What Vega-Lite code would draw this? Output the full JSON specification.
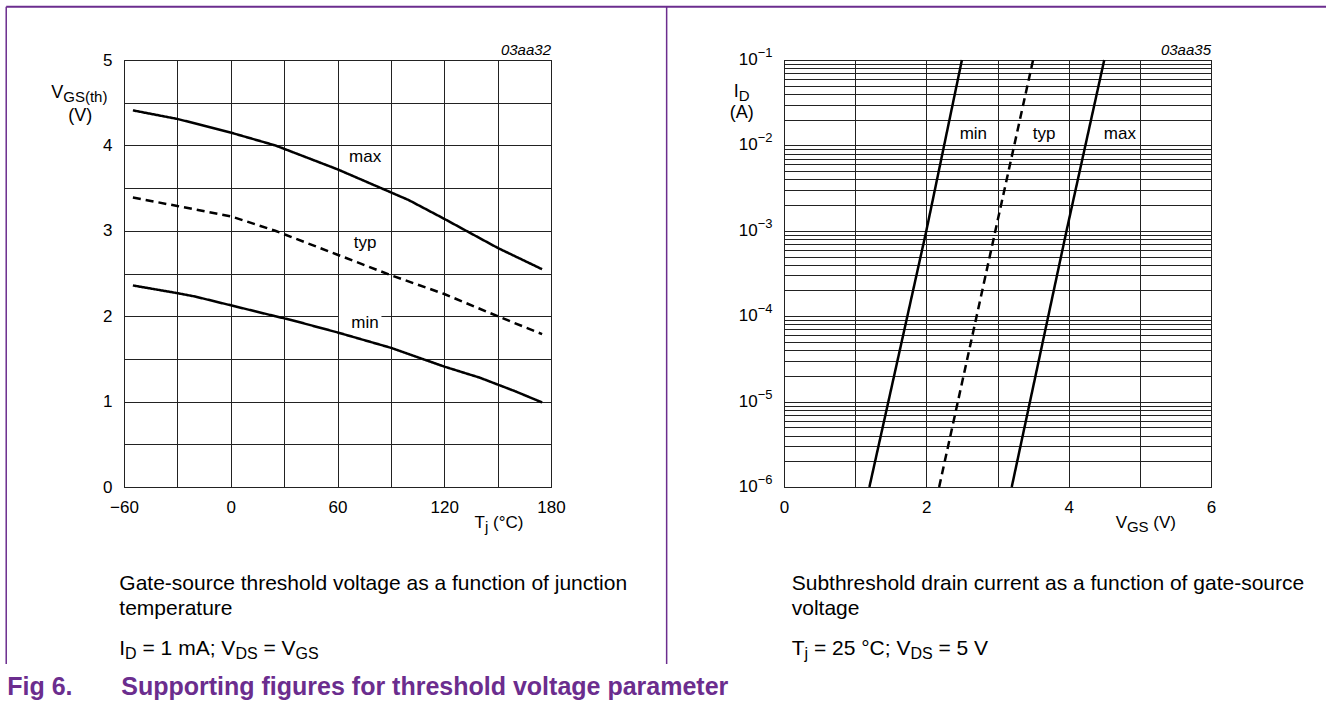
{
  "$schema": "https://vega.github.io/schema/vega-lite/v6.json",
  "padding": {"left": 4, "top": 5, "right": 0, "bottom": 0},
  "bounds": "flush",
  "spacing": 233,
  "background": "white",
  "config": {
    "font": "Liberation Sans",
    "view": {"stroke": "#000", "strokeWidth": 1},
    "axis": {"labelFont": "Liberation Sans", "labelFontSize": 17, "labelColor": "#000", "gridColor": "#222", "gridWidth": 1, "gridOpacity": 1, "ticks": false, "domain": false, "labelFlush": false, "labelOverlap": false, "labelBound": false},
    "text": {"font": "Liberation Sans", "color": "#000"}
  },
  "datasets": {
    "vth": [
      {"T": -55, "V": 4.41, "c": "max"}, {"T": -30, "V": 4.31, "c": "max"}, {"T": 0, "V": 4.15, "c": "max"}, {"T": 25, "V": 4.0, "c": "max"}, {"T": 50, "V": 3.8, "c": "max"}, {"T": 60, "V": 3.72, "c": "max"}, {"T": 90, "V": 3.45, "c": "max"}, {"T": 100, "V": 3.36, "c": "max"}, {"T": 120, "V": 3.14, "c": "max"}, {"T": 150, "V": 2.8, "c": "max"}, {"T": 175, "V": 2.55, "c": "max"},
      {"T": -55, "V": 3.39, "c": "typ"}, {"T": -30, "V": 3.29, "c": "typ"}, {"T": 0, "V": 3.17, "c": "typ"}, {"T": 25, "V": 3.0, "c": "typ"}, {"T": 60, "V": 2.72, "c": "typ"}, {"T": 90, "V": 2.48, "c": "typ"}, {"T": 120, "V": 2.26, "c": "typ"}, {"T": 150, "V": 2.0, "c": "typ"}, {"T": 175, "V": 1.79, "c": "typ"},
      {"T": -55, "V": 2.36, "c": "min"}, {"T": -30, "V": 2.27, "c": "min"}, {"T": -20, "V": 2.23, "c": "min"}, {"T": 25, "V": 2.0, "c": "min"}, {"T": 35, "V": 1.95, "c": "min"}, {"T": 60, "V": 1.81, "c": "min"}, {"T": 90, "V": 1.63, "c": "min"}, {"T": 120, "V": 1.41, "c": "min"}, {"T": 140, "V": 1.28, "c": "min"}, {"T": 150, "V": 1.2, "c": "min"}, {"T": 160, "V": 1.12, "c": "min"}, {"T": 175, "V": 0.99, "c": "min"}
    ],
    "id": [
      {"V": 1.2, "I": 0.000001, "c": "min"}, {"V": 2.0, "I": 0.001, "c": "min"}, {"V": 2.5, "I": 0.1, "c": "min"},
      {"V": 2.18, "I": 0.000001, "c": "typ"}, {"V": 2.97, "I": 0.001, "c": "typ"}, {"V": 3.5, "I": 0.1, "c": "typ"},
      {"V": 3.2, "I": 0.000001, "c": "max"}, {"V": 3.97, "I": 0.001, "c": "max"}, {"V": 4.5, "I": 0.1, "c": "max"}
    ],
    "decades": [
      {"I": 0.1, "e": "−1"}, {"I": 0.01, "e": "−2"}, {"I": 0.001, "e": "−3"}, {"I": 0.0001, "e": "−4"}, {"I": 0.00001, "e": "−5"}, {"I": 0.000001, "e": "−6"}
    ]
  },
  "hconcat": [
    {
      "width": 427,
      "height": 427,
      "layer": [
        {
          "data": {"name": "vth"},
          "mark": {"type": "line", "color": "#000", "strokeWidth": 2.5},
          "encoding": {
            "x": {"field": "T", "type": "quantitative", "scale": {"domain": [-60, 180], "nice": false, "zero": false},
              "axis": {"title": null, "values": [-60, -30, 0, 30, 60, 90, 120, 150, 180], "labelExpr": "datum.value % 60 === 0 ? format(datum.value, 'd') : ''", "labelPadding": 12}},
            "y": {"field": "V", "type": "quantitative", "scale": {"domain": [0, 5], "nice": false, "zero": false},
              "axis": {"title": null, "values": [0, 0.5, 1, 1.5, 2, 2.5, 3, 3.5, 4, 4.5, 5], "labelExpr": "datum.value % 1 === 0 ? format(datum.value, 'd') : ''", "labelPadding": 12}},
            "strokeDash": {"field": "c", "type": "nominal", "scale": {"domain": ["max", "typ", "min"], "range": [[1, 0], [8, 5], [1, 0]]}, "legend": null}
          }
        },
        {"data": {"values": [{}]}, "mark": {"type": "rect", "color": "white"}, "encoding": {"x": {"datum": 60.8}, "x2": {"datum": 84.7}, "y": {"datum": 1.922}, "y2": {"datum": 2.074}}},
        {"data": {"values": [{}]}, "mark": {"type": "text", "text": "max", "fontSize": 17, "align": "center", "baseline": "alphabetic"}, "encoding": {"x": {"datum": 75.5}, "y": {"datum": 3.809}}},
        {"data": {"values": [{}]}, "mark": {"type": "text", "text": "typ", "fontSize": 17, "align": "center", "baseline": "alphabetic"}, "encoding": {"x": {"datum": 75.5}, "y": {"datum": 2.804}}},
        {"data": {"values": [{}]}, "mark": {"type": "text", "text": "min", "fontSize": 17, "align": "center", "baseline": "alphabetic"}, "encoding": {"x": {"datum": 75.5}, "y": {"datum": 1.867}}},
        {"data": {"values": [{}]}, "mark": {"type": "text", "text": "03aa32", "fontSize": 15, "fontStyle": "italic", "align": "right", "baseline": "alphabetic"}, "encoding": {"x": {"datum": 180}, "y": {"datum": 5.0625}}},
        {"data": {"values": [{}]}, "mark": {"type": "text", "text": "V", "fontSize": 18, "align": "left", "baseline": "alphabetic"}, "encoding": {"x": {"datum": -100.9}, "y": {"datum": 4.559}}},
        {"data": {"values": [{}]}, "mark": {"type": "text", "text": "GS(th)", "fontSize": 15, "align": "left", "baseline": "alphabetic"}, "encoding": {"x": {"datum": -94.14}, "y": {"datum": 4.506}}},
        {"data": {"values": [{}]}, "mark": {"type": "text", "text": "(V)", "fontSize": 18, "align": "center", "baseline": "alphabetic"}, "encoding": {"x": {"datum": -84.58}, "y": {"datum": 4.289}}},
        {"data": {"values": [{}]}, "mark": {"type": "text", "text": "T", "fontSize": 17, "align": "left", "baseline": "alphabetic"}, "encoding": {"x": {"datum": 137.04}, "y": {"datum": -0.4805}}},
        {"data": {"values": [{}]}, "mark": {"type": "text", "text": "j", "fontSize": 15, "align": "left", "baseline": "alphabetic"}, "encoding": {"x": {"datum": 142.89}, "y": {"datum": -0.5273}}},
        {"data": {"values": [{}]}, "mark": {"type": "text", "text": "(°C)", "fontSize": 17, "align": "left", "baseline": "alphabetic"}, "encoding": {"x": {"datum": 147.39}, "y": {"datum": -0.4805}}},
        {"data": {"values": [{}]}, "mark": {"type": "text", "text": "Gate-source threshold voltage as a function of junction", "fontSize": 21, "align": "left", "baseline": "alphabetic"}, "encoding": {"x": {"datum": -62.64}, "y": {"datum": -1.207}}},
        {"data": {"values": [{}]}, "mark": {"type": "text", "text": "temperature", "fontSize": 21, "align": "left", "baseline": "alphabetic"}, "encoding": {"x": {"datum": -62.64}, "y": {"datum": -1.5}}},
        {"data": {"values": [{}]}, "mark": {"type": "text", "text": "I", "fontSize": 21, "align": "left", "baseline": "alphabetic"}, "encoding": {"x": {"datum": -62.64}, "y": {"datum": -1.969}}},
        {"data": {"values": [{}]}, "mark": {"type": "text", "text": "D", "fontSize": 16, "align": "left", "baseline": "alphabetic"}, "encoding": {"x": {"datum": -59.38}, "y": {"datum": -2.016}}},
        {"data": {"values": [{}]}, "mark": {"type": "text", "text": "= 1 mA; V", "fontSize": 21, "align": "left", "baseline": "alphabetic"}, "encoding": {"x": {"datum": -49.59}, "y": {"datum": -1.969}}},
        {"data": {"values": [{}]}, "mark": {"type": "text", "text": "DS", "fontSize": 16, "align": "left", "baseline": "alphabetic"}, "encoding": {"x": {"datum": 2.61}, "y": {"datum": -2.016}}},
        {"data": {"values": [{}]}, "mark": {"type": "text", "text": "= V", "fontSize": 21, "align": "left", "baseline": "alphabetic"}, "encoding": {"x": {"datum": 18.36}, "y": {"datum": -1.969}}},
        {"data": {"values": [{}]}, "mark": {"type": "text", "text": "GS", "fontSize": 16, "align": "left", "baseline": "alphabetic"}, "encoding": {"x": {"datum": 36.41}, "y": {"datum": -2.016}}},
        {"data": {"values": [{}]}, "mark": {"type": "text", "text": "Fig 6.", "fontSize": 25, "fontWeight": "bold", "color": "#6B2D8E", "align": "left", "baseline": "alphabetic"}, "encoding": {"x": {"datum": -125.64}, "y": {"datum": -2.4375}}},
        {"data": {"values": [{}]}, "mark": {"type": "text", "text": "Supporting figures for threshold voltage parameter", "fontSize": 25, "fontWeight": "bold", "color": "#6B2D8E", "align": "left", "baseline": "alphabetic"}, "encoding": {"x": {"datum": -61.52}, "y": {"datum": -2.4375}}},
        {"data": {"values": [{}]}, "mark": {"type": "rule", "color": "#6B2D8E", "strokeWidth": 2}, "encoding": {"x": {"datum": -126.2}, "x2": {"datum": 615.7}, "y": {"datum": 5.625}}},
        {"data": {"values": [{}]}, "mark": {"type": "rule", "color": "#6B2D8E", "strokeWidth": 1.5}, "encoding": {"x": {"datum": -126.2}, "y": {"datum": 5.625}, "y2": {"datum": -2.074}}},
        {"data": {"values": [{}]}, "mark": {"type": "rule", "color": "#6B2D8E", "strokeWidth": 1.5}, "encoding": {"x": {"datum": 245.0}, "y": {"datum": 5.625}, "y2": {"datum": -2.074}}}
      ]
    },
    {
      "width": 427,
      "height": 427,
      "layer": [
        {
          "data": {"name": "id"},
          "mark": {"type": "line", "color": "#000", "strokeWidth": 2.5},
          "encoding": {
            "x": {"field": "V", "type": "quantitative", "scale": {"domain": [0, 6], "nice": false, "zero": false},
              "axis": {"title": null, "values": [0, 1, 2, 3, 4, 5, 6], "labelExpr": "datum.value % 2 === 0 ? format(datum.value, 'd') : ''", "labelPadding": 12}},
            "y": {"field": "I", "type": "quantitative", "scale": {"type": "log", "domain": [0.000001, 0.1], "nice": false},
              "axis": {"title": null, "labels": false, "values": [0.000001, 0.000002, 0.000003, 0.000004, 0.000005, 0.000006, 0.000007, 0.000008, 0.000009, 0.00001, 0.00002, 0.00003, 0.00004, 0.00005, 0.00006, 0.00007, 0.00008, 0.00009, 0.0001, 0.0002, 0.0003, 0.0004, 0.0005, 0.0006, 0.0007, 0.0008, 0.0009, 0.001, 0.002, 0.003, 0.004, 0.005, 0.006, 0.007, 0.008, 0.009, 0.01, 0.02, 0.03, 0.04, 0.05, 0.06, 0.07, 0.08, 0.09, 0.1]}},
            "strokeDash": {"field": "c", "type": "nominal", "scale": {"domain": ["max", "typ", "min"], "range": [[1, 0], [8, 5], [1, 0]]}, "legend": null}
          }
        },
        {"data": {"name": "decades"}, "mark": {"type": "text", "text": "10", "fontSize": 17, "align": "right", "baseline": "middle"}, "encoding": {"x": {"datum": -0.3696}, "y": {"field": "I", "type": "quantitative"}}},
        {"data": {"name": "decades"}, "mark": {"type": "text", "fontSize": 13, "align": "left", "baseline": "middle", "dy": -7}, "encoding": {"x": {"datum": -0.3696}, "y": {"field": "I", "type": "quantitative"}, "text": {"field": "e"}}},
        {"data": {"values": [{}]}, "mark": {"type": "text", "text": "min", "fontSize": 17, "align": "center", "baseline": "alphabetic"}, "encoding": {"x": {"datum": 2.661}, "y": {"datum": 0.01186}}},
        {"data": {"values": [{}]}, "mark": {"type": "text", "text": "typ", "fontSize": 17, "align": "center", "baseline": "alphabetic"}, "encoding": {"x": {"datum": 3.656}, "y": {"datum": 0.01186}}},
        {"data": {"values": [{}]}, "mark": {"type": "text", "text": "max", "fontSize": 17, "align": "center", "baseline": "alphabetic"}, "encoding": {"x": {"datum": 4.72}, "y": {"datum": 0.01186}}},
        {"data": {"values": [{}]}, "mark": {"type": "text", "text": "03aa35", "fontSize": 15, "fontStyle": "italic", "align": "right", "baseline": "alphabetic"}, "encoding": {"x": {"datum": 6}, "y": {"datum": 0.1154}}},
        {"data": {"values": [{}]}, "mark": {"type": "text", "text": "I", "fontSize": 18, "align": "left", "baseline": "alphabetic"}, "encoding": {"x": {"datum": -0.7068}, "y": {"datum": 0.03715}}},
        {"data": {"values": [{}]}, "mark": {"type": "text", "text": "D", "fontSize": 15, "align": "left", "baseline": "alphabetic"}, "encoding": {"x": {"datum": -0.6365}, "y": {"datum": 0.03334}}},
        {"data": {"values": [{}]}, "mark": {"type": "text", "text": "(A)", "fontSize": 18, "align": "center", "baseline": "alphabetic"}, "encoding": {"x": {"datum": -0.5944}, "y": {"datum": 0.02108}}},
        {"data": {"values": [{}]}, "mark": {"type": "text", "text": "V", "fontSize": 17, "align": "left", "baseline": "alphabetic"}, "encoding": {"x": {"datum": 4.661}, "y": {"datum": 3.30e-7}}},
        {"data": {"values": [{}]}, "mark": {"type": "text", "text": "GS", "fontSize": 15, "align": "left", "baseline": "alphabetic"}, "encoding": {"x": {"datum": 4.819}, "y": {"datum": 2.963e-7}}},
        {"data": {"values": [{}]}, "mark": {"type": "text", "text": "(V)", "fontSize": 17, "align": "left", "baseline": "alphabetic"}, "encoding": {"x": {"datum": 5.19}, "y": {"datum": 3.30e-7}}},
        {"data": {"values": [{}]}, "mark": {"type": "text", "text": "Subthreshold drain current as a function of gate-source", "fontSize": 21, "align": "left", "baseline": "alphabetic"}, "encoding": {"x": {"datum": 0.1082}, "y": {"datum": 6.2e-8}}},
        {"data": {"values": [{}]}, "mark": {"type": "text", "text": "voltage", "fontSize": 21, "align": "left", "baseline": "alphabetic"}, "encoding": {"x": {"datum": 0.1082}, "y": {"datum": 3.159e-8}}},
        {"data": {"values": [{}]}, "mark": {"type": "text", "text": "T", "fontSize": 21, "align": "left", "baseline": "alphabetic"}, "encoding": {"x": {"datum": 0.1082}, "y": {"datum": 1.073e-8}}},
        {"data": {"values": [{}]}, "mark": {"type": "text", "text": "j", "fontSize": 16, "align": "left", "baseline": "alphabetic"}, "encoding": {"x": {"datum": 0.288}, "y": {"datum": 9.63e-9}}},
        {"data": {"values": [{}]}, "mark": {"type": "text", "text": "= 25 °C; V", "fontSize": 21, "align": "left", "baseline": "alphabetic"}, "encoding": {"x": {"datum": 0.4201}, "y": {"datum": 1.073e-8}}},
        {"data": {"values": [{}]}, "mark": {"type": "text", "text": "DS", "fontSize": 16, "align": "left", "baseline": "alphabetic"}, "encoding": {"x": {"datum": 1.776}, "y": {"datum": 9.63e-9}}},
        {"data": {"values": [{}]}, "mark": {"type": "text", "text": "= 5 V", "fontSize": 21, "align": "left", "baseline": "alphabetic"}, "encoding": {"x": {"datum": 2.1695}, "y": {"datum": 1.073e-8}}}
      ]
    }
  ]
}
